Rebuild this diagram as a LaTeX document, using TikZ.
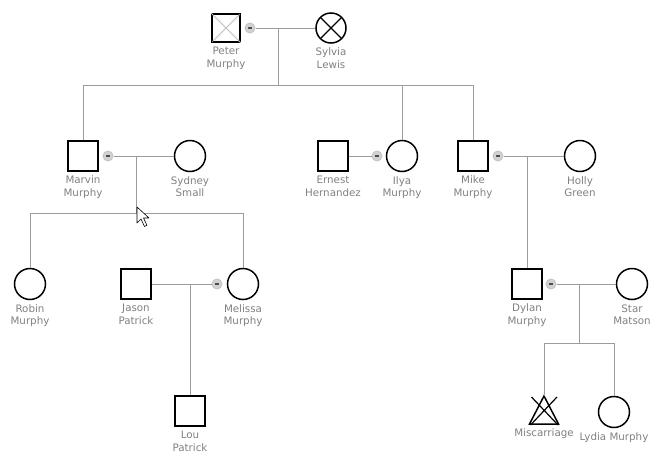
\documentclass[tikz,border=0pt]{standalone}
\usepackage{fontspec}
\setmainfont{DejaVu Sans}
\usetikzlibrary{positioning}
\definecolor{lblgray}{HTML}{808080}
\definecolor{linegray}{HTML}{9C9C9C}
\tikzset{
  male/.style={draw, line width=1.5pt, minimum size=30pt, inner sep=0pt},
  female/.style={draw, circle, line width=1.5pt, minimum size=31pt, inner sep=0pt},
  wed/.style={draw=gray!45, line width=1pt, fill=gray!35, circle, minimum size=10pt, inner sep=0pt,
    path picture={\draw[line width=1.3pt, black!70]
      ([xshift=-1.8pt]path picture bounding box.center) -- ([xshift=1.8pt]path picture bounding box.center);}},
  link/.style={draw=linegray, line width=0.9pt},
  lbl/.style={text=lblgray, align=center, inner sep=0pt, font=\fontsize{10.3}{12.6}\selectfont}
}
\begin{document}
\begin{tikzpicture}[x=1pt,y=-1pt]
  \useasboundingbox (0,0) rectangle (657,464);
  % first generation
  \node[male, minimum size=28pt] (peter) at (226,28) {};
  \draw[gray!50, line width=0.8pt, shorten >=1.6pt, shorten <=1.6pt]
    (peter.north west) -- (peter.south east) (peter.north east) -- (peter.south west);
  \node[female, minimum size=30pt, path picture={\draw[line width=1.3pt]
    (path picture bounding box.north west) -- (path picture bounding box.south east)
    (path picture bounding box.north east) -- (path picture bounding box.south west);}]
    (sylvia) at (331,28) {};
  \node[wed] (pw) at (250,28) {};
  \node[lbl, below=4pt of peter] (peterl) {Peter\\Murphy};
  \node[lbl, below=4pt of sylvia] (sylvial) {Sylvia\\Lewis};
  \draw[link] (pw) -- (sylvia);
  \coordinate (pj) at (278,28); \coordinate (pb) at (278,85);
  \draw[link] (pj) -- (pb);
  % second generation
  \node[male] (marvin) at (83,156) {};
  \node[female] (sydney) at (190,156) {};
  \node[wed] (mw) at (108,156) {};
  \node[male] (ernest) at (333,156) {};
  \node[female] (ilya) at (402,156) {};
  \node[wed] (ew) at (377,156) {};
  \node[male] (mike) at (473,156) {};
  \node[female] (holly) at (580,156) {};
  \node[wed] (kw) at (498,156) {};
  \node[lbl, below=4pt of marvin] (marvinl) {Marvin\\Murphy};
  \node[lbl, below=4pt of sydney] (sydneyl) {Sydney\\Small};
  \node[lbl, below=4pt of ernest] (ernestl) {Ernest\\Hernandez};
  \node[lbl, below=4pt of ilya] (ilyal) {Ilya\\Murphy};
  \node[lbl, below=4pt of mike] (mikel) {Mike\\Murphy};
  \node[lbl, below=4pt of holly] (hollyl) {Holly\\Green};
  \draw[link] (marvin.north) -- (marvin.north|-pb) -- (mike.north|-pb) -- (mike.north);
  \draw[link] (ilya.north) -- (ilya.north|-pb);
  \draw[link] (mw) -- (sydney); \draw[link] (ernest) -- (ew); \draw[link] (kw) -- (holly);
  % third generation
  \node[female] (robin) at (30,284) {};
  \node[male] (jason) at (136,284) {};
  \node[female] (melissa) at (243,284) {};
  \node[wed] (jw) at (217,284) {};
  \node[male] (dylan) at (527,284) {};
  \node[female] (star) at (632,284) {};
  \node[wed] (dw) at (551,284) {};
  \node[lbl, below=4pt of robin] (robinl) {Robin\\Murphy};
  \node[lbl, below=4pt of jason] (jasonl) {Jason\\Patrick};
  \node[lbl, below=4pt of melissa] (melissal) {Melissa\\Murphy};
  \node[lbl, below=4pt of dylan] (dylanl) {Dylan\\Murphy};
  \node[lbl, below=4pt of star] (starl) {Star\\Matson};
  \coordinate (mj) at (136.5,156); \coordinate (mb) at (136.5,213);
  \draw[link] (mj) -- (mb);
  \draw[link] (robin.north) -- (robin.north|-mb) -- (melissa.north|-mb) -- (melissa.north);
  \draw[link] (jason) -- (jw) ; \draw[link] (dw) -- (star);
  \coordinate (kj) at (527,156);
  \draw[link] (kj) -- (dylan.north);
  % fourth generation
  \node[male] (lou) at (190,411) {};
  \node[female] (lydia) at (614,412) {};
  \coordinate (misc) at (544,396);
  \draw[line width=1.5pt, line join=miter] (misc) -- ++(14.5,28) -- ++(-29,0) -- cycle;
  \draw[line width=1.2pt] (531.5,397) -- (558,425) (557,397) -- (530.5,425);
  \node[lbl, below=4pt of lou] (loul) {Lou\\Patrick};
  \node[lbl, anchor=north] (miscl) at (544,428.5) {Miscarriage};
  \node[lbl, below=4pt of lydia] (lydial) {Lydia Murphy};
  \coordinate (jj) at (190,284);
  \draw[link] (jj) -- (lou.north);
  \coordinate (dj) at (579,284); \coordinate (db) at (579,343);
  \draw[link] (dj) -- (db);
  \draw[link] (misc) -- (misc|-db) -- (lydia.north|-db) -- (lydia.north);
  % mouse pointer
  \draw[fill=white, line width=0.6pt, line join=round] (137,207) -- ++(0,16) -- ++(4,-4)
    -- ++(3.5,7.5) -- ++(2.5,-1.2) -- ++(-3.5,-7.3) -- ++(5.5,0) -- cycle;
\end{tikzpicture}
\end{document}
